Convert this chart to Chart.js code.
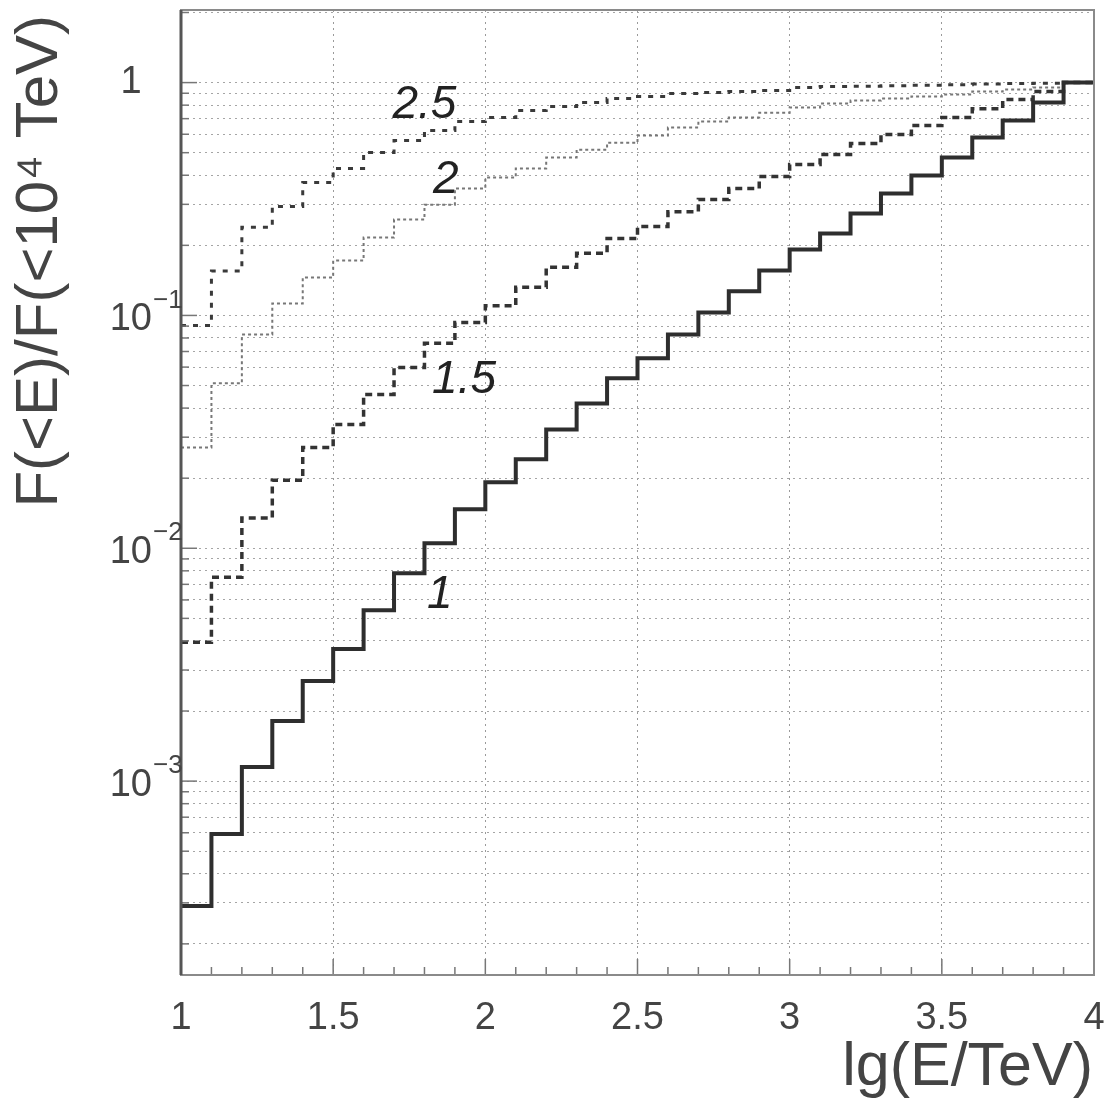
<!DOCTYPE html>
<html><head><meta charset="utf-8">
<script src="https://cdn.jsdelivr.net/npm/chart.js@4.4.1/dist/chart.umd.min.js"></script>
<style>html,body{margin:0;padding:0;background:#fff;}#wrap{width:1107px;height:1105px;}</style>
</head><body><div id="wrap"><canvas id="c" width="1107" height="1105"></canvas></div>
<script>
// bin edges of lg(E/TeV)
const binEdges = [1.0,1.1,1.2,1.3,1.4,1.5,1.6,1.7,1.8,1.9,2.0,2.1,2.2,2.3,2.4,2.5,2.6,2.7,2.8,2.9,3.0,3.1,3.2,3.3,3.4,3.5,3.6,3.7,3.8,3.9,4.0];
// F(<E)/F(<10^4 TeV) per bin, for spectral indices 1, 1.5, 2, 2.5
const gamma1  = [2.91e-4,5.93e-4,1.15e-3,1.81e-3,2.69e-3,3.69e-3,5.42e-3,7.81e-3,1.05e-2,1.47e-2,1.92e-2,2.41e-2,3.24e-2,4.19e-2,5.37e-2,6.54e-2,8.28e-2,0.103,0.127,0.156,0.192,0.225,0.274,0.334,0.399,0.477,0.581,0.687,0.821,1.0];
const gamma15 = [3.95e-3,7.51e-3,1.35e-2,1.96e-2,2.71e-2,3.40e-2,4.58e-2,5.98e-2,7.59e-2,9.33e-2,0.110,0.132,0.161,0.185,0.214,0.241,0.279,0.315,0.351,0.395,0.445,0.491,0.547,0.598,0.654,0.708,0.773,0.845,0.915,1.0];
const gamma2  = [0.0271,0.0511,0.0828,0.1126,0.1456,0.172,0.216,0.258,0.299,0.351,0.391,0.428,0.477,0.515,0.552,0.593,0.641,0.680,0.708,0.743,0.782,0.813,0.837,0.854,0.871,0.888,0.915,0.933,0.952,1.0];
const gamma25 = [0.0906,0.155,0.239,0.294,0.372,0.428,0.501,0.564,0.622,0.680,0.708,0.758,0.789,0.821,0.854,0.871,0.897,0.906,0.915,0.924,0.952,0.962,0.965,0.970,0.975,0.980,0.985,0.990,0.993,1.0];
const curveNames = ['1','1.5','2','2.5'];
// axis ticks
const xTickValues = [1,1.5,2,2.5,3,3.5,4];
const xTickLabels = ['1','1.5','2','2.5','3','3.5','4'];
const yLabelValues = [1,0.1,0.01,0.001];
const yLabelBase = ['1','10','10','10'];
const yLabelExp = ['','\u22121','\u22122','\u22123'];
const yDecades = [1e-4,1e-3,1e-2,1e-1,1];
const yMantissas = [1,2,3,4,5,6,7,8,9];
const xTitle = 'lg(E/TeV)';
const yTitle = 'F(<E)/F(<10\u2074 TeV)';

function steps(vals){ return binEdges.map((x,i)=>({x:x, y:vals[Math.min(i, vals.length-1)]})); }
const yGrid = [];
yDecades.forEach(d=>yMantissas.forEach(m=>{ const v=d*m; if(v>1.5e-4 && v<2.04) yGrid.push(v); }));
const xMinor = binEdges.slice();

const FONT = '"Liberation Sans", Arial, sans-serif';
const decor = {
  id:'decor',
  afterDraw(chart, args, opts){
    const ctx = chart.ctx, a = chart.chartArea, xs = chart.scales.x, ys = chart.scales.y;
    ctx.save();
    // small ticks
    ctx.strokeStyle = '#777'; ctx.lineWidth = 1.5; ctx.setLineDash([]);
    xMinor.forEach(v=>{
      const px = xs.getPixelForValue(v);
      const len = (Math.abs(v*2-Math.round(v*2))<1e-6) ? 16 : 8;
      ctx.beginPath(); ctx.moveTo(px,a.bottom); ctx.lineTo(px,a.bottom-len); ctx.stroke();
    });
    yGrid.forEach(v=>{
      const py = ys.getPixelForValue(v);
      const major = yLabelValues.some(t=>Math.abs(t-v)/t<1e-6);
      const len = major ? 16 : 8;
      ctx.beginPath(); ctx.moveTo(a.left,py); ctx.lineTo(a.left+len,py); ctx.stroke();
    });
    // frame
    ctx.strokeStyle = '#8a8a8a'; ctx.lineWidth = 2;
    ctx.strokeRect(a.left, a.top, a.right-a.left, a.bottom-a.top);
    ctx.strokeStyle = '#555'; ctx.lineWidth = 3;
    ctx.beginPath(); ctx.moveTo(a.left, a.top); ctx.lineTo(a.left, a.bottom); ctx.stroke();
    // x tick labels
    ctx.fillStyle = '#444'; ctx.font = '38px '+FONT; ctx.textAlign='center'; ctx.textBaseline='middle';
    xTickValues.forEach((v,i)=>{ ctx.fillText(xTickLabels[i], xs.getPixelForValue(v), 1019); });
    // y tick labels with superscripts
    yLabelValues.forEach((v,i)=>{
      const py = ys.getPixelForValue(v);
      if(!yLabelExp[i]){
        ctx.font='38px '+FONT; ctx.textAlign='center'; ctx.textBaseline='middle';
        ctx.fillText(yLabelBase[i], 131, py);
      } else {
        ctx.font='38px '+FONT; ctx.textAlign='right'; ctx.textBaseline='middle';
        ctx.fillText(yLabelBase[i], 152, py+4);
        ctx.font='26px '+FONT; ctx.textAlign='left';
        ctx.fillText(yLabelExp[i], 153, py-15);
      }
    });
    // axis titles
    ctx.font='61px '+FONT; ctx.textAlign='right'; ctx.textBaseline='middle';
    ctx.fillText(xTitle, 1093, 1068);
    ctx.save(); ctx.translate(40, 15); ctx.rotate(-Math.PI/2);
    ctx.font='60px '+FONT; ctx.textAlign='right'; ctx.textBaseline='middle';
    ctx.fillText(yTitle, 0, 0);
    ctx.restore();
    // curve annotations
    ctx.fillStyle = '#222'; ctx.font = 'italic 46px '+FONT; ctx.textAlign='center'; ctx.textBaseline='middle';
    opts.labels.forEach((l,i)=>{ ctx.fillText(curveNames[i], xs.getPixelForValue(l.x), ys.getPixelForValue(l.y)); });
    ctx.restore();
  }
};

new Chart(document.getElementById('c'), {
  type:'line',
  data:{ datasets:[
    {label:curveNames[0], data:steps(gamma1), stepped:'before', borderColor:'#2e2e2e', borderWidth:4, pointRadius:0, fill:false},
    {label:curveNames[1], data:steps(gamma15), stepped:'before', borderColor:'#333', borderWidth:3.5, borderDash:[7,5], pointRadius:0, fill:false},
    {label:curveNames[2], data:steps(gamma2), stepped:'before', borderColor:'#777', borderWidth:2, borderDash:[3,3], pointRadius:0, fill:false},
    {label:curveNames[3], data:steps(gamma25), stepped:'before', borderColor:'#3a3a3a', borderWidth:3, borderDash:[5,7], pointRadius:0, fill:false}
  ]},
  options:{
    responsive:false, animation:false, devicePixelRatio:1,
    layout:{padding:{left:0,right:13,top:10,bottom:0}},
    plugins:{ legend:{display:false}, tooltip:{enabled:false},
      decor:{ labels:[{x:1.85,y:0.0063},{x:1.93,y:0.0526},{x:1.87,y:0.38},{x:1.80,y:0.80}] } },
    scales:{
      x:{ type:'linear', min:1, max:4,
        afterBuildTicks:s=>{ s.ticks = xTickValues.map(v=>({value:v})); },
        afterFit:s=>{ s.height = 130; },
        ticks:{display:false},
        grid:{color:'#9a9a9a', lineWidth:1, drawTicks:false},
        border:{display:false, dash:[2,4]} },
      y:{ type:'logarithmic', min:1.47e-4, max:2.05,
        afterBuildTicks:s=>{ s.ticks = yGrid.map(v=>({value:v})); },
        afterFit:s=>{ s.width = 181; },
        ticks:{display:false},
        grid:{color:'#a5a5a5', lineWidth:1, drawTicks:false},
        border:{display:false, dash:[2,4]} }
    }
  },
  plugins:[decor]
});
</script></body></html>
